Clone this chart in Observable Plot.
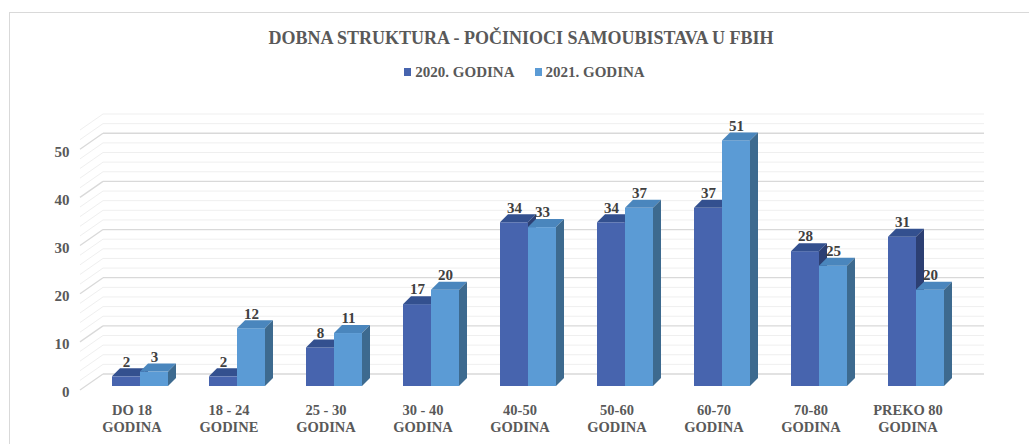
<!DOCTYPE html>
<html><head><meta charset="utf-8">
<script src="https://cdn.jsdelivr.net/npm/d3@7"></script>
<script src="https://cdn.jsdelivr.net/npm/@observablehq/plot@0.6"></script>
<style>
body{margin:0;background:#fff;width:1029px;height:444px;overflow:hidden;position:relative;font-family:"Liberation Serif",serif;}
#frame{position:absolute;left:9px;top:12px;width:1100px;height:500px;border:1px solid #d9d9d9;box-sizing:border-box;}
#title{position:absolute;left:0;width:1042px;top:28px;text-align:center;font-weight:bold;font-size:18px;color:#595959;white-space:nowrap;}
#legend{position:absolute;left:0;width:1049px;top:64px;text-align:center;font-weight:bold;font-size:15px;color:#595959;white-space:nowrap;}
#legend span.item{margin:0 10px;}
#legend span.sw{display:inline-block;width:7px;height:8px;margin-right:4px;vertical-align:1px;}
#chart{position:absolute;left:0;top:100px;}
</style>
</head><body>
<div id="frame"></div>
<div id="title">DOBNA STRUKTURA - POČINIOCI SAMOUBISTAVA U FBIH</div>
<div id="legend"></div>
<div id="chart"></div>
<script>
const categories = ["DO 18\nGODINA", "18 - 24\nGODINE", "25 - 30\nGODINA", "30 - 40\nGODINA", "40-50\nGODINA", "50-60\nGODINA", "60-70\nGODINA", "70-80\nGODINA", "PREKO 80\nGODINA"];
const series = ["2020. GODINA", "2021. GODINA"];
const values2020 = [2, 2, 8, 17, 34, 34, 37, 28, 31];
const values2021 = [3, 12, 11, 20, 33, 37, 51, 25, 20];
const yTicks = [0, 10, 20, 30, 40, 50];
const colors = ["#4764ae", "#5b9bd5"];
const topColors = ["#33508f", "#4a86bd"];
const sideColors = ["#2c3f73", "#3d6a8f"];

const data = categories.flatMap((c, i) => [
  {cat: c, s: series[0], v: values2020[i]},
  {cat: c, s: series[1], v: values2021[i]}
]);

// legend
const legend = document.getElementById("legend");
series.forEach((s, i) => {
  const it = document.createElement("span");
  it.className = "item";
  it.innerHTML = `<span class="sw" style="background:${colors[i]}"></span>${s}`;
  legend.appendChild(it);
});

const chart = Plot.plot({
  width: 1029, height: 344,
  marginLeft: 81, marginRight: 72, marginTop: 26, marginBottom: 58,
  style: {fontFamily: "'Liberation Serif', serif", fontSize: "14px", fontWeight: "bold", color: "#595959", background: "transparent", overflow: "visible"},
  fx: {domain: categories, padding: 0, label: null, axis: null},
  x: {domain: series, paddingInner: 0, paddingOuter: 0.707, align: 0.7, axis: null},
  y: {domain: [0, 54], axis: null},
  color: {domain: series, range: colors},
  marks: [
    Plot.axisFx({anchor: "bottom", tickSize: 0, tickPadding: 17, label: null, lineHeight: 1.15, fontSize: 14.5}),
    Plot.axisY({ticks: yTicks, tickSize: 0, tickPadding: 14, dy: 6, label: null, fontSize: 15}),
    Plot.barY(data, {fx: "cat", x: "s", y: "v", fill: "s", className: "bar3d"}),
    Plot.text(data, {fx: "cat", x: "s", y: "v", text: "v", dy: -15, fill: "#404040", fontSize: 15, fontWeight: "bold"})
  ]
});
document.getElementById("chart").appendChild(chart);

// back wall + side wall gridlines, positioned with the plot's y scale
const svg = d3.select(chart.tagName.toLowerCase() === "svg" ? chart : chart.querySelector("svg"));
const ys = chart.scale("y");
const grid = svg.insert("g", ":first-child").attr("class", "grid");
const gridVals = d3.range(0, 55, 2);
for (const v of gridVals) {
  const yy = ys.apply(v);
  const major = v % 10 === 0;
  const col = major ? "#d9d9d9" : "#efefef";
  grid.append("line").attr("x1", 103).attr("x2", 984).attr("y1", yy - 12).attr("y2", yy - 12)
    .attr("stroke", col).attr("stroke-width", major ? 1.3 : 1);
  grid.append("line").attr("x1", 80).attr("x2", 103).attr("y1", yy + 4).attr("y2", yy - 12)
    .attr("stroke", col).attr("stroke-width", major ? 1.3 : 1);
}

// 3D faces on each bar
const D = 8;
svg.selectAll("g.bar3d rect").each(function() {
  const r = d3.select(this);
  const x = +r.attr("x"), y = +r.attr("y"), w = +r.attr("width"), h = +r.attr("height");
  const fill = r.attr("fill");
  const k = fill && fill.toLowerCase() === colors[0] ? 0 : 1;
  const parent = this.parentNode;
  const next = this.nextSibling;
  const top = document.createElementNS("http://www.w3.org/2000/svg", "polygon");
  top.setAttribute("points", `${x},${y} ${x + w},${y} ${x + w + D},${y - D} ${x + D},${y - D}`);
  top.setAttribute("fill", topColors[k]);
  const side = document.createElementNS("http://www.w3.org/2000/svg", "polygon");
  side.setAttribute("points", `${x + w},${y} ${x + w + D},${y - D} ${x + w + D},${y + h - D} ${x + w},${y + h}`);
  side.setAttribute("fill", sideColors[k]);
  parent.insertBefore(top, next);
  parent.insertBefore(side, next);
});
</script>
</body></html>
